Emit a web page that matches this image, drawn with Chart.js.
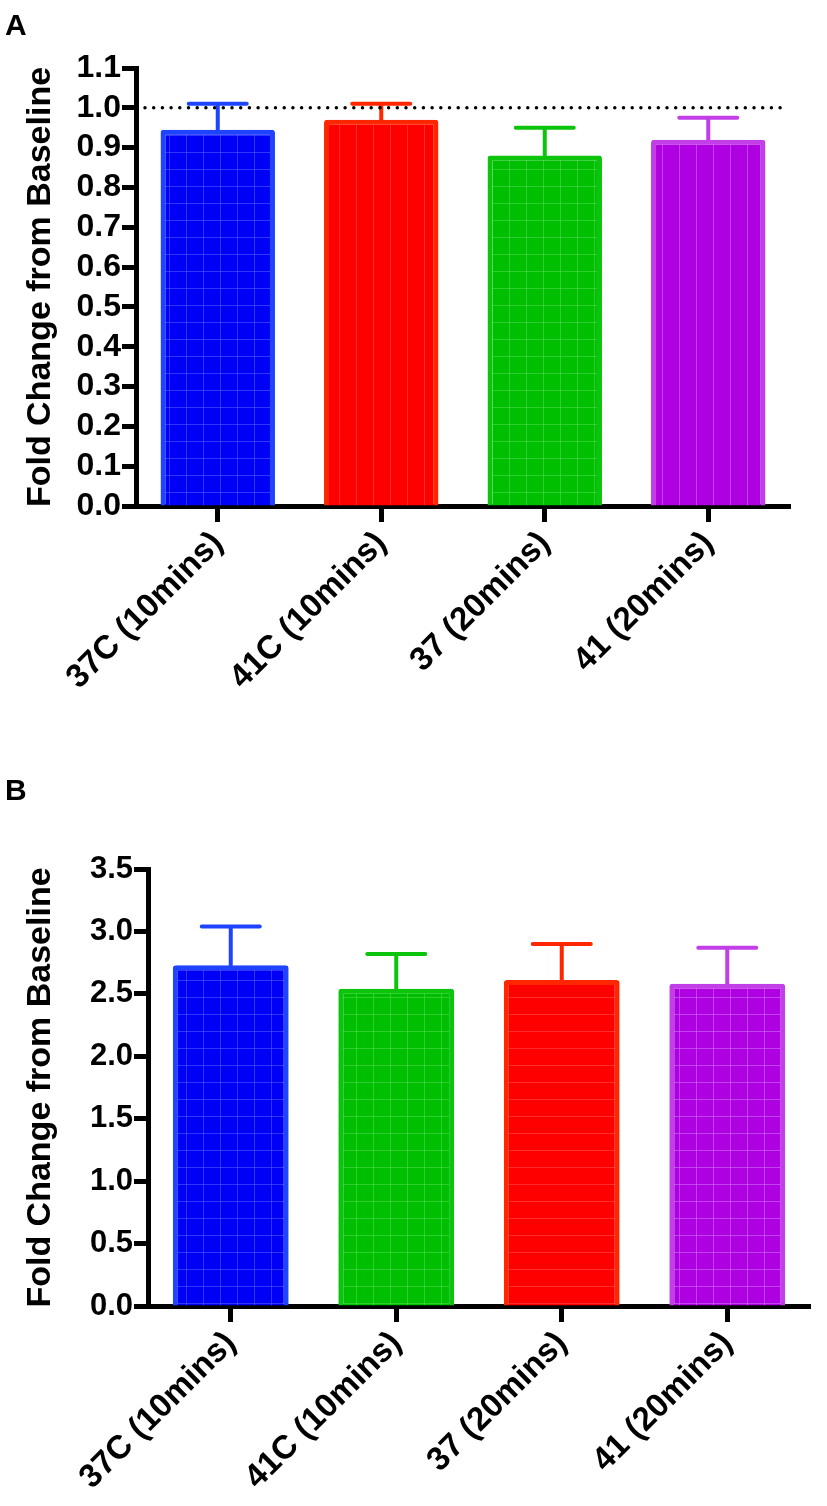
<!DOCTYPE html>
<html>
<head>
<meta charset="utf-8">
<script src="https://cdn.jsdelivr.net/npm/chart.js@4.4.1/dist/chart.umd.min.js"></script>
<style>
  html, body { margin: 0; padding: 0; background: #fff; }
  canvas { position: absolute; left: 0; }
</style>
</head>
<body>
<canvas id="chartA" width="827" height="760" style="top:0"></canvas>
<canvas id="chartB" width="827" height="746" style="top:760px"></canvas>
<script>
// --- data ---
const labelsA = ['37C (10mins)', '41C (10mins)', '37 (20mins)', '41 (20mins)'];
const meansA = [0.945, 0.97, 0.88, 0.92];
const semA = [0.065, 0.04, 0.07, 0.055];
const yMaxA = 1.1, yStepA = 0.1;

const labelsB = ['37C (10mins)', '41C (10mins)', '37 (20mins)', '41 (20mins)'];
const meansB = [2.73, 2.54, 2.61, 2.58];
const semB = [0.31, 0.28, 0.29, 0.29];
const yMaxB = 3.5, yStepB = 0.5;

const FONT = '"Liberation Sans", Arial, Helvetica, sans-serif';

const styles = {
  blue:   { fill: '#0000f6', edge: '#1f44ff', line: 'rgba(90,110,255,0.5)' },
  red:    { fill: '#ff0000', edge: '#ff2600', line: 'rgba(255,90,90,0.5)' },
  green:  { fill: '#00bf00', edge: '#0cc40c', line: 'rgba(90,220,90,0.5)' },
  purple: { fill: '#ae00e0', edge: '#c23fe8', line: 'rgba(210,120,245,0.55)' }
};

// faint grid texture inside bars
function texture(st, vert, horiz) {
  const c = document.createElement('canvas');
  c.width = 17; c.height = 17;
  const g = c.getContext('2d');
  g.fillStyle = st.fill;
  g.fillRect(0, 0, 17, 17);
  g.strokeStyle = st.line;
  g.lineWidth = 1;
  if (vert) { g.beginPath(); g.moveTo(16.5, 0); g.lineTo(16.5, 17); g.stroke(); }
  if (horiz) { g.beginPath(); g.moveTo(0, 16.5); g.lineTo(17, 16.5); g.stroke(); }
  return g.createPattern(c, 'repeat');
}

const errorBars = {
  id: 'errorBars',
  afterDatasetsDraw(chart, args, opts) {
    const ctx = chart.ctx;
    const y = chart.scales.y;
    const meta = chart.getDatasetMeta(0);
    const data = chart.data.datasets[0].data;
    ctx.save();
    ctx.lineWidth = 4;
    ctx.lineCap = 'round';
    meta.data.forEach((bar, i) => {
      const top = y.getPixelForValue(data[i] + opts.errors[i]);
      ctx.strokeStyle = opts.colors[i];
      ctx.beginPath();
      ctx.moveTo(bar.x, bar.y);
      ctx.lineTo(bar.x, top);
      ctx.moveTo(bar.x - 29, top);
      ctx.lineTo(bar.x + 29, top);
      ctx.stroke();
    });
    ctx.restore();
  }
};

const refLine = {
  id: 'refLine',
  afterDatasetsDraw(chart, args, opts) {
    if (opts.value == null) return;
    const ctx = chart.ctx;
    const yp = chart.scales.y.getPixelForValue(opts.value);
    ctx.save();
    ctx.strokeStyle = '#000';
    ctx.lineWidth = 3.5;
    ctx.lineCap = 'round';
    ctx.setLineDash([0, 8.7]);
    ctx.beginPath();
    ctx.moveTo(chart.chartArea.left + 9, yp);
    ctx.lineTo(chart.chartArea.right - 4, yp);
    ctx.stroke();
    ctx.restore();
  }
};

const panelLetter = {
  id: 'panelLetter',
  afterDraw(chart, args, opts) {
    const ctx = chart.ctx;
    ctx.save();
    ctx.fillStyle = '#000';
    ctx.font = 'bold 30px ' + FONT;
    ctx.textBaseline = 'alphabetic';
    ctx.fillText(opts.text, opts.x, opts.y);
    ctx.restore();
  }
};

function makeChart(id, cfg) {
  return new Chart(document.getElementById(id), {
    type: 'bar',
    data: {
      labels: cfg.labels,
      datasets: [{
        data: cfg.means,
        backgroundColor: cfg.looks.map(l => texture(styles[l.c], l.v, l.h)),
        borderColor: cfg.looks.map(l => styles[l.c].edge),
        borderWidth: 5,
        borderRadius: 3,
        borderSkipped: 'bottom',
        barPercentage: 0.7,
        categoryPercentage: 1.0
      }]
    },
    options: {
      responsive: false,
      animation: false,
      layout: { padding: cfg.padding },
      plugins: {
        legend: { display: false },
        tooltip: { enabled: false },
        errorBars: { errors: cfg.errors, colors: cfg.looks.map(l => styles[l.c].edge) },
        refLine: { value: cfg.ref },
        panelLetter: cfg.letter
      },
      scales: {
        x: {
          offset: true,
          grid: { offset: false, drawOnChartArea: false, drawTicks: true, tickLength: 16, tickWidth: 5, color: '#000' },
          border: { display: true, color: '#000', width: 5 },
          ticks: {
            autoSkip: false, minRotation: 45, maxRotation: 45, padding: 2,
            color: '#000', font: { family: FONT, size: 33, weight: 'bold' }
          },
          afterFit: s => { s.height = cfg.xHeight; }
        },
        y: {
          min: 0, max: cfg.yMax,
          grid: { drawOnChartArea: false, drawTicks: true, tickLength: 14, tickWidth: 5, color: '#000' },
          border: { display: true, color: '#000', width: 5 },
          ticks: {
            stepSize: cfg.yStep, padding: 1, color: '#000', autoSkip: false,
            font: { family: FONT, size: cfg.tickSize, weight: 'bold', lineHeight: 1 },
            callback: v => Number(v).toFixed(1)
          },
          title: {
            display: true, text: 'Fold Change from Baseline', color: '#000',
            font: { family: FONT, size: 34, weight: 'bold' },
            padding: { top: 20, bottom: 0 }
          },
          afterFit: s => { s.width = cfg.yWidth; }
        }
      }
    },
    plugins: [errorBars, refLine, panelLetter]
  });
}

makeChart('chartA', {
  labels: labelsA, means: meansA, errors: semA, yMax: yMaxA, yStep: yStepA,
  looks: [{ c: 'blue', v: 1, h: 1 }, { c: 'red', v: 1, h: 0 }, { c: 'green', v: 1, h: 1 }, { c: 'purple', v: 1, h: 0 }],
  padding: { top: 68, right: 37, left: 0, bottom: 0 },
  xHeight: 254, yWidth: 136, tickSize: 32, ref: 1.0,
  letter: { text: 'A', x: 5, y: 35 }
});

makeChart('chartB', {
  labels: labelsB, means: meansB, errors: semB, yMax: yMaxB, yStep: yStepB,
  looks: [{ c: 'blue', v: 1, h: 1 }, { c: 'green', v: 1, h: 1 }, { c: 'red', v: 0, h: 1 }, { c: 'purple', v: 1, h: 1 }],
  padding: { top: 109, right: 17, left: 0, bottom: 0 },
  xHeight: 200, yWidth: 148, tickSize: 31, ref: null,
  letter: { text: 'B', x: 5, y: 40 }
});
</script>
</body>
</html>
